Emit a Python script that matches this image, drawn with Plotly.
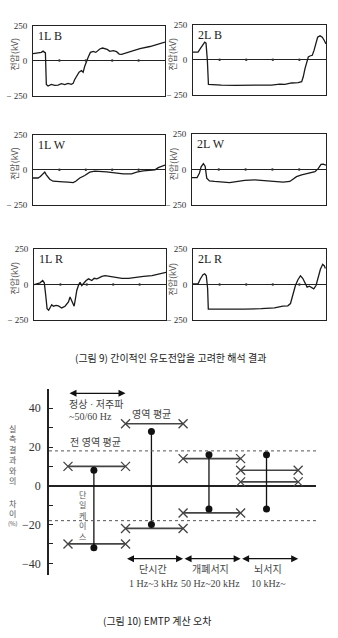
import plotly.graph_objects as go

W, H = 338, 638

# ---------------- Figure 9 data: waveforms (time in % of window, voltage in kV) ----------------
t_1LB = [0, 6.3, 7.6, 8.4, 9.4, 10.1, 11.4, 13.9, 16.5, 19.0, 21.5, 24.1, 26.6, 29.1, 30.4, 31.6, 33.4,
         34.9, 36.7, 38.0, 39.2, 40.5, 41.8, 43.5, 45.6, 47.6, 49.4, 50.6, 52.7, 54.4, 56.2, 58.2, 60.8,
         63.3, 65.3, 67.1, 68.9, 70.9, 74.7, 81.0, 88.6, 93.7, 100]
v_1LB = [50, 59, 68, 64, 55, -170, -182, -170, -177, -175, -165, -172, -163, -170, -163, -135, -111,
         -83, -71, -83, -40, -5, 24, 59, 66, 59, 73, 83, 90, 85, 80, 66, 71,
         64, 47, 45, 50, 59, 71, 85, 101, 113, 132]

t_2LB = [0, 3.8, 5.5, 7.5, 8.8, 9.8, 10.8, 11.6, 15.1, 21.4, 31.4, 41.5, 51.5, 59.0, 65.3, 69.1, 74.1,
         79.1, 81.7, 82.9, 84.2, 85.4, 86.7, 87.9, 89.7, 91.0, 92.2, 93.7, 95.5, 97.2, 98.7, 100]
v_2LB = [54, 54, 78, 108, 125, 118, -5, -177, -177, -182, -184, -184, -182, -182, -175, -177, -167,
         -165, -158, -123, -64, -17, 19, 26, 31, 66, 113, 160, 170, 160, 137, 113]

t_1LW = [0, 3.8, 5.6, 7.6, 8.9, 10.1, 12.7, 15.2, 19.0, 22.8, 26.6, 30.4, 32.4, 35.4, 39.2, 43.0, 46.8,
         50.6, 55.7, 62.0, 68.4, 74.7, 78.5, 83.5, 88.6, 92.4, 94.9, 97.5, 100]
v_1LW = [-58, -58, -47, -28, -16, -35, -67, -81, -86, -86, -88, -91, -81, -58, -40, -16, -9,
         -9, -14, -21, -28, -28, -16, -7, -5, 0, 16, 28, 35]

t_2LW = [0, 3.8, 5.5, 6.8, 8.5, 9.8, 11.0, 13.0, 16.8, 21.8, 28.0, 31.8, 39.3, 46.8, 54.3, 61.8, 68.0,
         73.0, 75.5, 78.0, 81.8, 86.8, 91.8, 94.3, 96.3, 98.0, 100]
v_2LW = [-58, -58, -28, 18, 41, 23, -62, -81, -85, -90, -94, -88, -78, -74, -78, -85, -90,
         -85, -67, -51, -39, -28, -16, 7, 35, 37, 30]

t_1LR = [0, 2.0, 4.6, 6.6, 7.8, 8.9, 9.9, 11.1, 12.2, 13.4, 14.7, 16.7, 18.5, 21.0, 23.5, 26.1, 27.3,
         28.6, 30.4, 31.4, 32.4, 33.9, 34.9, 36.2, 38.0, 39.5, 41.3, 43.8, 45.6, 47.6, 49.6, 51.4, 53.9,
         57.7, 61.5, 66.6, 71.6, 76.7, 83.0, 89.4, 94.4, 100]
v_1LR = [0, 5, 12, 28, 12, -77, -170, -181, -165, -142, -153, -147, -151, -165, -153, -123, -88,
         -119, -153, -100, -42, 0, 16, -7, 16, 28, 40, 28, 44, 40, 49, 58, 63,
         58, 51, 44, 44, 51, 58, 63, 72, 86]

t_2LR = [0, 3.8, 5.5, 7.5, 8.8, 10.0, 11.0, 11.5, 16.3, 26.3, 38.8, 51.3, 61.3, 67.5, 71.3, 73.3, 75.0,
         77.0, 78.8, 80.8, 82.5, 84.3, 85.8, 87.5, 89.3, 90.8, 92.5, 94.3, 95.8, 97.5, 98.8, 99.5]
v_2LR = [5, 5, 39, 69, 76, 62, -30, -173, -173, -175, -173, -170, -164, -152, -150, -134, -76,
         -7, 32, 62, 44, 5, -18, -12, -23, -30, -7, 51, 108, 143, 131, 113]

panel_names = ["1L B", "2L B", "1L W", "2L W", "1L R", "2L R"]
panel_t = [t_1LB, t_2LB, t_1LW, t_2LW, t_1LR, t_2LR]
panel_v = [v_1LB, v_2LB, v_1LW, v_2LW, v_1LR, v_2LR]
volt_ticks = [-250, 0, 250]
volt_ticktext = ["− 250", "0", "250"]
time_marks = [20, 40, 60, 80]

# ---------------- Figure 10 data: EMTP error (%) ----------------
ranges = ["정상 · 저주파", "단시간", "개폐서지", "뇌서지"]
freq_text = ["~50/60 Hz", "1 Hz~3 kHz", "50 Hz~20 kHz", "10 kHz~"]
region_upper = [10, 32, 14, 8]
region_lower = [-30, -22, -14, 2]
single_max = [8, 28, 16, 16]
single_min = [-32, -20, -12, -12]
overall_avg = [18, -18]
err_ticks = [-40, -30, -20, -10, 0, 10, 20, 30, 40]
err_ticktext = ["−40", "", "−20", "", "0", "", "20", "", "40"]

# ---------------- layout helpers ----------------
def dx(a, b):
    return [a / W, b / W]

def dy(top, bottom):
    return [1 - bottom / H, 1 - top / H]

def sfx(k):
    return "" if k == 1 else str(k)

panel_boxes = [(33, 165, 21, 92), (193, 326, 20, 91),
               (33, 165, 132, 203), (192, 326, 131, 203),
               (34, 166, 248, 320), (193, 326, 248, 320)]
title_x = [15, 173, 15, 173, 15, 173]

SERIF = "Liberation Serif, Noto Sans CJK KR, serif"
SANS = "Noto Sans CJK KR, sans-serif"

fig = go.Figure()
layout = dict(width=W, height=H, margin=dict(l=0, r=0, t=0, b=0),
              paper_bgcolor="white", plot_bgcolor="white", showlegend=False)
annotations = []
shapes = []

for i in range(6):
    k = i + 1
    s = sfx(k)
    xa, ya = "x" + s, "y" + s
    x0, x1, yt, yb = panel_boxes[i]
    fig.add_trace(go.Scatter(x=panel_t[i], y=panel_v[i], mode="lines", xaxis=xa, yaxis=ya,
                             line=dict(color="#1a1a1a", width=1.3), hoverinfo="skip"))
    fig.add_trace(go.Scatter(x=time_marks, y=[0] * len(time_marks), mode="markers", xaxis=xa, yaxis=ya,
                             marker=dict(color="#333", size=2.5), hoverinfo="skip"))
    layout["xaxis" + s] = dict(domain=dx(x0, x1), range=[0, 100], anchor=ya, showline=True, mirror=True,
                               linecolor="#222", linewidth=1, showgrid=False, zeroline=False,
                               showticklabels=False, ticks="")
    layout["yaxis" + s] = dict(domain=dy(yt, yb), range=[-250, 250], anchor=xa, showline=True, mirror=True,
                               linecolor="#222", linewidth=1, showgrid=False, zeroline=True,
                               zerolinecolor="#222", zerolinewidth=1, tickvals=volt_ticks,
                               ticktext=volt_ticktext, ticks="", ticklabelstandoff=3,
                               tickfont=dict(family=SERIF, size=9, color="#333"))
    annotations.append(dict(text=panel_names[i], xref=f"{xa} domain", yref=f"{ya} domain", x=0.025, y=0.985,
                            xanchor="left", yanchor="top", showarrow=False,
                            font=dict(family=SERIF, size=12, color="#222")))
    annotations.append(dict(text="전압(kV)", xref="paper", yref="paper", x=title_x[i] / W,
                            y=1 - ((yt + yb) / 2 - 6) / H, textangle=-90, showarrow=False,
                            xanchor="center", yanchor="middle", borderpad=0,
                            font=dict(family=SANS, size=9, color="#555")))

annotations.append(dict(text="(그림 9) 간이적인 유도전압을 고려한 해석 결과", xref="paper", yref="paper",
                        x=170 / W, y=1 - 358 / H, showarrow=False, xanchor="center", yanchor="middle",
                        font=dict(family=SANS, size=10, color="#222")))

# ---------------- Figure 10 ----------------
XA, YA = "x7", "y7"
layout["xaxis7"] = dict(domain=dx(49, 316), range=[-0.33, 4.31], anchor=YA, visible=False)
layout["yaxis7"] = dict(domain=dy(390, 579), range=[-46, 50], anchor=XA, showline=True, linecolor="#222",
                        linewidth=1.5, showgrid=False, zeroline=True, zerolinecolor="#222",
                        zerolinewidth=1.5, tickvals=err_ticks, ticktext=err_ticktext, ticks="inside",
                        ticklen=4, tickcolor="#222", ticklabelstandoff=4,
                        tickfont=dict(family=SERIF, size=12, color="#333"))

for v in overall_avg:
    shapes.append(dict(type="line", xref=f"{XA} domain", yref=YA, x0=0, x1=1, y0=v, y1=v,
                       line=dict(color="#555", width=1, dash="dot")))

for i in range(len(ranges)):
    fig.add_trace(go.Scatter(x=[i, i + 1, None, i, i + 1],
                             y=[region_upper[i], region_upper[i], None, region_lower[i], region_lower[i]],
                             mode="lines+markers", xaxis=XA, yaxis=YA,
                             line=dict(color="#444", width=1.6),
                             marker=dict(symbol="x-thin-open", size=9, line=dict(color="#222", width=1.3)),
                             hoverinfo="skip"))
    fig.add_trace(go.Scatter(x=[i + 0.45, i + 0.45], y=[single_max[i], single_min[i]],
                             mode="lines+markers", xaxis=XA, yaxis=YA,
                             line=dict(color="#111", width=1.3),
                             marker=dict(symbol="circle", size=7, color="#111"),
                             hoverinfo="skip"))

def arrow(xa0, xa1, yv):
    return dict(x=xa1, y=yv, ax=xa0, ay=yv, xref=XA, yref=YA, axref=XA, ayref=YA, text="",
                showarrow=True, arrowhead=2, startarrowhead=2, arrowside="end+start",
                arrowsize=1, arrowwidth=1.4, arrowcolor="#111", standoff=0, startstandoff=0)

annotations.append(arrow(0, 1, 47.7))
for i in range(1, len(ranges)):
    annotations.append(arrow(i, i + 1, -37.6))

lab_font = dict(family=SERIF, size=10, color="#444")
annotations.append(dict(text=ranges[0], xref=XA, yref=YA, x=-0.02, y=42.2, xanchor="left",
                        yanchor="middle", showarrow=False, font=lab_font))
annotations.append(dict(text=freq_text[0], xref=XA, yref=YA, x=-0.02, y=35.6, xanchor="left",
                        yanchor="middle", showarrow=False, font=lab_font))
for i in range(1, len(ranges)):
    annotations.append(dict(text=ranges[i], xref=XA, yref="paper", x=i + 0.48, y=1 - 573 / H,
                            xanchor="center", yanchor="middle", showarrow=False, font=lab_font))
    annotations.append(dict(text=freq_text[i], xref=XA, yref="paper", x=i + 0.48, y=1 - 588 / H,
                            xanchor="center", yanchor="middle", showarrow=False, font=lab_font))

annotations.append(dict(text="영역 평균", xref=XA, yref=YA, x=1.45, y=36.6, xanchor="center",
                        yanchor="middle", showarrow=False, font=lab_font))
annotations.append(dict(text="전 영역 평균", xref=XA, yref=YA, x=0.0, y=22.5, xanchor="left",
                        yanchor="middle", showarrow=False, font=lab_font))

# vertical "단일케이스" label (one stacked text)
single_label = "단일케이스"
annotations.append(dict(text="<br>".join(single_label), xref=XA, yref=YA, x=0.26, y=-15.4,
                        xanchor="center", yanchor="middle", showarrow=False, borderpad=0,
                        font=dict(family=SANS, size=8, color="#555")))

# vertical axis title "실측 결과와의 차이 (%)" as stacked text blocks
ytitle_a = "실측결과와의"
ytitle_b = "차이"
annotations.append(dict(text="<br>".join(ytitle_a), xref="paper", yref="paper", x=13 / W,
                        y=1 - 424 / H, xanchor="center", yanchor="top", showarrow=False, borderpad=0,
                        font=dict(family=SANS, size=8, color="#555")))
annotations.append(dict(text="<br>".join(ytitle_b), xref="paper", yref="paper", x=13 / W,
                        y=1 - 500 / H, xanchor="center", yanchor="top", showarrow=False, borderpad=0,
                        font=dict(family=SANS, size=8, color="#555")))
annotations.append(dict(text="(%)", xref="paper", yref="paper", x=13 / W,
                        y=1 - 527 / H, xanchor="center", yanchor="middle", showarrow=False, borderpad=0,
                        font=dict(family=SANS, size=6, color="#555")))

annotations.append(dict(text="(그림 10) EMTP 계산 오차", xref="paper", yref="paper",
                        x=157 / W, y=1 - 625 / H, showarrow=False, xanchor="center", yanchor="middle",
                        font=dict(family=SANS, size=10, color="#222")))

layout["annotations"] = annotations
layout["shapes"] = shapes
fig.update_layout(**layout)
fig.write_html("out.html")
